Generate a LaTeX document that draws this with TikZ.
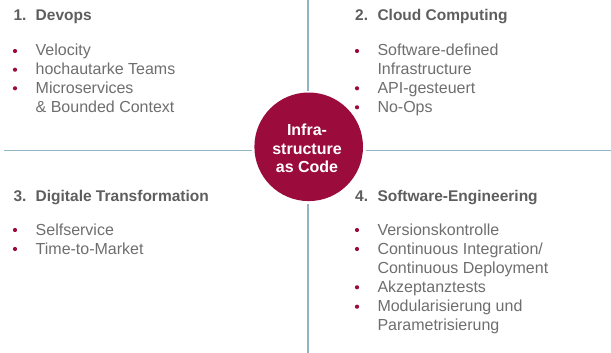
\documentclass[tikz,border=0pt]{standalone}
\usepackage{fontspec}
\setmainfont{Liberation Sans}
\definecolor{wine}{HTML}{9B0B3B}
\definecolor{rule}{HTML}{8FB5C7}
\definecolor{headgray}{HTML}{5E5E5E}
\definecolor{bodygray}{HTML}{6E6E6E}
\begin{document}
\begin{tikzpicture}[x=1pt,y=-1pt,
  divider/.style={draw=rule,line width=1.5pt},
  hub/.style={circle,fill=wine,minimum size=108.6pt,inner sep=0pt},
  hubline/.style={anchor=base,inner sep=0pt,text=white,
    font=\fontsize{16}{18.5}\selectfont\bfseries},
  headnum/.style={anchor=base west,inner sep=0pt,text=headgray,
    font=\fontsize{15.5}{19}\selectfont\bfseries},
  headtxt/.style={headnum},
  entry/.style={anchor=base west,inner sep=0pt,text=bodygray,
    font=\fontsize{16}{18.9}\selectfont},
  dot/.style={circle,fill=wine,inner sep=0pt,minimum size=4.2pt}]
\useasboundingbox (0,0) rectangle (611,353);

% dividing cross, interrupted around the hub
\coordinate (lw) at (4,150.5);
\coordinate (lc) at (252,150.5);
\coordinate (rc) at (366,150.5);
\coordinate (re) at (611,150.5);
\coordinate (tt) at (308,0);
\coordinate (tc) at (308,90.7);
\coordinate (bc) at (308,204);
\coordinate (bb) at (308,353);
\draw[divider] (lw) -- (lc);
\draw[divider] (rc) -- (re);
\draw[divider] (tt) -- (tc);
\draw[divider] (bc) -- (bb);

% central hub
\node[hub] (hub) at (308.7,146.8) {};
\node[hubline] (hub1) at (307,135.7) {Infra-};
\node[hubline] (hub2) at (307,154.4) {structure};
\node[hubline] (hub3) at (307,172.8) {as Code};

% 1. Devops
\node[headnum] (n1) at (13.3,20.7) {1.};
\node[headtxt] (h1) at (35.5,20.7) {Devops};
\node[dot] (b11) at (15,51) {};
\node[entry] (e11) at (35.5,56) {Velocity};
\node[dot] (b12) at (15,69.7) {};
\node[entry] (e12) at (35.5,74.7) {hochautarke Teams};
\node[dot] (b13) at (15,88.3) {};
\node[entry] (e13) at (35.5,93.3) {Microservices};
\node[entry] (e13b) at (35.5,112.3) {\& Bounded Context};

% 2. Cloud Computing
\node[headnum] (n2) at (355,20.7) {2.};
\node[headtxt] (h2) at (377.3,20.7) {Cloud Computing};
\node[dot] (b21) at (357,51) {};
\node[entry] (e21) at (377.3,56) {Software-defined};
\node[entry] (e21b) at (377.3,74.7) {Infrastructure};
\node[dot] (b22) at (357,88.3) {};
\node[entry] (e22) at (377.3,93.3) {API-gesteuert};
\node[dot] (b23) at (357,107.3) {};
\node[entry] (e23) at (377.3,112.3) {No-Ops};

% 3. Digitale Transformation
\node[headnum] (n3) at (13.3,201.7) {3.};
\node[headtxt] (h3) at (35.5,201.7) {Digitale Transformation};
\node[dot] (b31) at (15,230) {};
\node[entry] (e31) at (35.5,235) {Selfservice};
\node[dot] (b32) at (15,249) {};
\node[entry] (e32) at (35.5,254) {Time-to-Market};

% 4. Software-Engineering
\node[headnum] (n4) at (355,201.7) {4.};
\node[headtxt] (h4) at (377.3,201.7) {Software-Engineering};
\node[dot] (b41) at (357,230) {};
\node[entry] (e41) at (377.3,235) {Versionskontrolle};
\node[dot] (b42) at (357,249) {};
\node[entry] (e42) at (377.3,254) {Continuous Integration/};
\node[entry] (e42b) at (377.3,273.3) {Continuous Deployment};
\node[dot] (b43) at (357,287.3) {};
\node[entry] (e43) at (377.3,292.3) {Akzeptanztests};
\node[dot] (b44) at (357,306.7) {};
\node[entry] (e44) at (377.3,311.7) {Modularisierung und};
\node[entry] (e44b) at (377.3,330.7) {Parametrisierung};
\end{tikzpicture}
\end{document}
